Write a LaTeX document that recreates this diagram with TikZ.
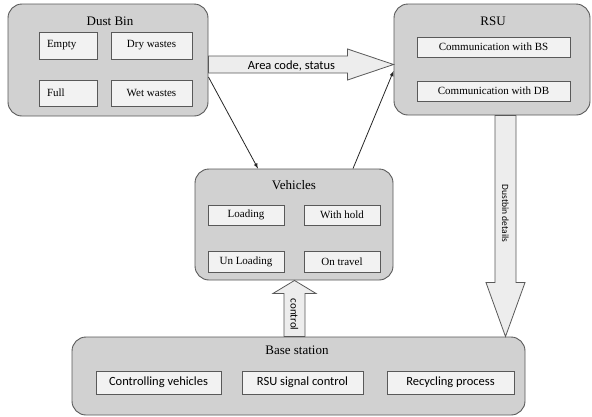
\documentclass[tikz,border=0pt]{standalone}
\usepackage{fontspec}
\setmainfont{Liberation Serif}
\newfontfamily\calibfont{Carlito}
\usetikzlibrary{calc}
\definecolor{PanelClr}{gray}{0.82}
\definecolor{ItemClr}{gray}{0.95}
\definecolor{ArrowClr}{gray}{0.93}
\definecolor{EdgeClr}{gray}{0.35}

\tikzset{
  panel/.style={draw=EdgeClr,fill=PanelClr,rounded corners=14pt,line width=0.9pt},
  paneltitle/.style={font=\fontsize{13}{15}\selectfont},
  item/.style={draw=EdgeClr,fill=ItemClr,line width=0.8pt,inner sep=0pt,font=\fontsize{11}{13}\selectfont},
  leftitem/.style={item,inner xsep=8pt,text width=42pt,align=left},
  sansitem/.style={item,font=\calibfont\fontsize{12.5}{14}\selectfont},
  fatarrow/.style={draw=EdgeClr,fill=ArrowClr,line width=0.8pt,line join=miter},
  arrowtext/.style={font=\calibfont\fontsize{#1}{14}\selectfont,inner sep=0pt},
  link/.style={-latex,line width=0.8pt,black!85}
}

\begin{document}
\begin{tikzpicture}[x=1pt,y=-1pt]
\useasboundingbox (0,0) rectangle (592,416);

% panels
\node[panel,minimum width=200pt,minimum height=112pt] (bin) at (108,60) {};
\node[panel,minimum width=196pt,minimum height=111pt] (rsu) at (492,59.5) {};
\node[panel,minimum width=198pt,minimum height=111pt] (veh) at (294,224.5) {};
\node[panel,minimum width=453pt,minimum height=78pt] (base) at (298.5,376) {};

\node[paneltitle] (bintitle) at (110,21) {Dust Bin};
\node[paneltitle] (rsutitle) at (493,21) {RSU};
\node[paneltitle] (vehtitle) at (294,185) {Vehicles};
\node[paneltitle] (basetitle) at (297,350) {Base station};

% dust bin
\node[leftitem,minimum height=27pt] (empty) at (68,45.5) {Empty};
\node[item,minimum width=81pt,minimum height=27pt] (dry) at (151.5,45.5) {Dry wastes};
\node[leftitem,minimum height=26pt] (full) at (68,93) {Full};
\node[item,minimum width=81pt,minimum height=26pt] (wet) at (151.5,93) {Wet wastes};

% rsu
\node[item,minimum width=153pt,minimum height=20pt] (combs) at (493.5,47) {Communication with BS};
\node[item,minimum width=153pt,minimum height=20pt] (comdb) at (493.5,91) {Communication with DB};

% vehicles
\node[item,minimum width=76pt,minimum height=20pt] (loading) at (246,215) {Loading};
\node[item,minimum width=76pt,minimum height=20pt] (withhold) at (342,215) {With hold};
\node[item,minimum width=76pt,minimum height=21pt] (unloading) at (246,261.5) {Un Loading};
\node[item,minimum width=76pt,minimum height=21pt] (ontravel) at (342,261.5) {On travel};

% base station
\node[sansitem,minimum width=125pt,minimum height=23pt] (ctrlveh) at (158.5,382.5) {Controlling vehicles};
\node[sansitem,minimum width=121pt,minimum height=23pt] (rsusig) at (302.5,382.5) {RSU signal control};
\node[sansitem,minimum width=127pt,minimum height=23pt] (recyc) at (450.5,382.5) {Recycling process};

% wide arrows
\coordinate (areaS) at ($(bin.east)+(0,4.5)$);
\coordinate (areaT) at (rsu.west |- areaS);
\draw[fatarrow] ($(areaS)+(0,-8.5)$) -- ($(areaT)+(-46,-8.5)$) -- ($(areaT)+(-46,-15.5)$)
  -- (areaT) -- ($(areaT)+(-46,15.5)$) -- ($(areaT)+(-46,8.5)$) -- ($(areaS)+(0,8.5)$) -- cycle;
\node[arrowtext=12.5] (arealbl) at ($(areaS)+(83,1)$) {Area code, status};

\coordinate (detS) at ($(rsu.south)+(13.5,0)$);
\coordinate (detT) at (detS |- base.north);
\draw[fatarrow] ($(detS)+(-10.5,0)$) -- ($(detT)+(-10.5,-54)$) -- ($(detT)+(-19.5,-54)$)
  -- (detT) -- ($(detT)+(19.5,-54)$) -- ($(detT)+(10.5,-54)$) -- ($(detS)+(10.5,0)$) -- cycle;
\node[arrowtext=9.5,rotate=-90] (detlbl) at ($(detS)+(0,98)$) {Dustbin details};

\coordinate (ctlS) at ($(base.north)+(-4,0)$);
\coordinate (ctlT) at (ctlS |- veh.south);
\draw[fatarrow] ($(ctlS)+(-10.5,0)$) -- ($(ctlT)+(-10.5,13)$) -- ($(ctlT)+(-21.5,13)$)
  -- (ctlT) -- ($(ctlT)+(21.5,13)$) -- ($(ctlT)+(10.5,13)$) -- ($(ctlS)+(10.5,0)$) -- cycle;
\node[arrowtext=11,rotate=-90] (ctllbl) at ($(ctlS)+(0,-22)$) {control};

% thin links
\draw[link] ($(bin.east)+(0,17)$) -- ($(veh.north)+(-36,0)$);
\draw[link] ($(veh.north)+(59,0)$) -- ($(rsu.west)+(0,11.5)$);

\end{tikzpicture}
\end{document}
